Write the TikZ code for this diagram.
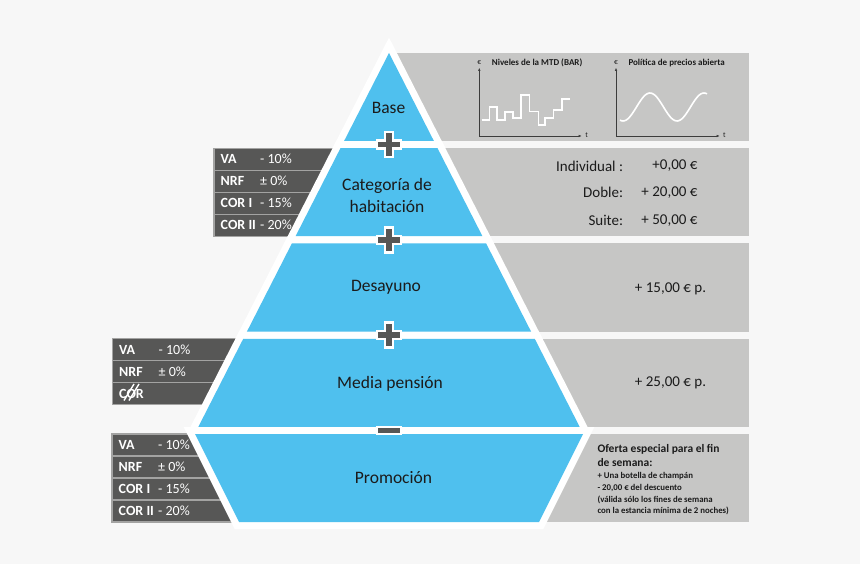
\documentclass[tikz,border=0pt]{standalone}
\usepackage{fontspec}
\setmainfont{Carlito}
\usetikzlibrary{arrows.meta}

\definecolor{pagebg}{HTML}{F7F7F7}
\definecolor{tierblue}{HTML}{4FC0EE}
\definecolor{panelgray}{HTML}{C6C6C5}
\definecolor{boxdark}{HTML}{575756}
\definecolor{boxline}{HTML}{A3A3A2}
\definecolor{inkdark}{HTML}{1B1B1B}
\definecolor{axisdark}{HTML}{3C3C3C}

\tikzset{
  tierlabel/.style={font=\fontsize{17.5}{22}\selectfont, text=inkdark, align=center, inner sep=0pt},
  pricetext/.style={font=\fontsize{15}{18}\selectfont, text=inkdark, inner sep=0pt},
  offertitle/.style={font=\bfseries\fontsize{11.5}{14}\selectfont, text=inkdark, inner sep=0pt, anchor=base west},
  offerline/.style={font=\bfseries\fontsize{8.8}{11}\selectfont, text=inkdark, inner sep=0pt, anchor=base west},
  darkrow/.style={fill=boxdark, draw=boxline, line width=1.2pt},
  rowkey/.style={anchor=west, inner sep=0pt, text=white, font=\bfseries\fontsize{14}{16}\selectfont},
  rowval/.style={anchor=west, inner sep=0pt, text=white, font=\fontsize{14}{16}\selectfont},
  tiergap/.style={fill=white, draw=white, line width=14pt, line join=miter},
  tierfill/.style={fill=tierblue},
  charttitle/.style={font=\bfseries\fontsize{9}{11}\selectfont, text=inkdark, anchor=west, inner sep=0pt},
  axislabel/.style={font=\fontsize{7.5}{9}\selectfont, text=inkdark, inner sep=0pt},
  axisline/.style={draw=axisdark, line width=0.8pt, -{Latex[length=3.5pt,width=2.6pt]}},
  pricecurve/.style={draw=white, line width=1.6pt},
  strikeline/.style={draw=white, line width=1.4pt},
  plusmark/.pic={
    \draw[fill=boxdark, draw=white, line width=2.5pt]
      (-4,-12.5) -- (4,-12.5) -- (4,-4) -- (12,-4) -- (12,4) -- (4,4) -- (4,12.5)
      -- (-4,12.5) -- (-4,4) -- (-12,4) -- (-12,-4) -- (-4,-4) -- cycle;
  },
  minusmark/.pic={
    \draw[fill=boxdark, draw=white, line width=2.5pt] (-12,-3.5) rectangle (12,3.5);
  }
}

\begin{document}
\begin{tikzpicture}[x=1pt, y=-1pt]
  \useasboundingbox (0,0) rectangle (860,564);
  \fill[pagebg] (0,0) rectangle (860,564);

  % gray price panels
  \foreach \top/\bot in {53/141, 148.25/236.25, 243.5/331.5, 338.75/426.75, 434/522}
    \fill[panelgray] (389,\top) rectangle (749,\bot);

  % rate boxes on the left
  \foreach \i/\key/\val [evaluate=\i as \ry using 148.25+22*\i] in
      {0/VA/- 10\%, 1/NRF/± 0\%, 2/COR I/- 15\%, 3/COR II/- 20\%} {
    \draw[darkrow] (214,\ry) rectangle (389,{\ry+22});
    \node[rowkey] (cat-key-\i) at (220.5,{\ry+11}) {\key};
    \node[rowval] (cat-val-\i) at (260,{\ry+11}) {\val};
  }
  \foreach \i/\key/\val [evaluate=\i as \ry using 338.75+22*\i] in
      {0/VA/- 10\%, 1/NRF/± 0\%, 2/COR/} {
    \draw[darkrow] (112.5,\ry) rectangle (389,{\ry+22});
    \node[rowkey] (med-key-\i) at (119,{\ry+11}) {\key};
    \node[rowval] (med-val-\i) at (158.5,{\ry+11}) {\val};
  }
  \draw[strikeline] (124,400.5) -- (134,384);
  \draw[strikeline] (129,400.5) -- (139,384);
  \foreach \i/\key/\val [evaluate=\i as \ry using 434+22*\i] in
      {0/VA/- 10\%, 1/NRF/± 0\%, 2/COR I/- 15\%, 3/COR II/- 20\%} {
    \draw[darkrow] (112,\ry) rectangle (389,{\ry+22});
    \node[rowkey] (pro-key-\i) at (118.5,{\ry+11}) {\key};
    \node[rowval] (pro-val-\i) at (158,{\ry+11}) {\val};
  }

  % pyramid: white bands first, then the blue tiers
  \path[tiergap] (389,53) -- (433.9,141) -- (344.1,141) -- cycle;
  \foreach \top/\bot in {148.25/236.25, 243.5/331.5, 338.75/426.75}
    \path[tiergap] ({389-0.51*(\top-53)},\top) -- ({389+0.51*(\top-53)},\top)
      -- ({389+0.51*(\bot-53)},\bot) -- ({389-0.51*(\bot-53)},\bot) -- cycle;
  \path[tiergap] (195,434) -- (583,434) -- (539,522) -- (239,522) -- cycle;

  \fill[tierfill] (389,53) -- (433.9,141) -- (344.1,141) -- cycle;
  \foreach \top/\bot in {148.25/236.25, 243.5/331.5, 338.75/426.75}
    \fill[tierfill] ({389-0.51*(\top-53)},\top) -- ({389+0.51*(\top-53)},\top)
      -- ({389+0.51*(\bot-53)},\bot) -- ({389-0.51*(\bot-53)},\bot) -- cycle;
  \fill[tierfill] (195,434) -- (583,434) -- (539,522) -- (239,522) -- cycle;

  \pic at (389,144.6) {plusmark};
  \pic at (389,239.9) {plusmark};
  \pic at (389,335.1) {plusmark};
  \pic at (389,430.4) {minusmark};

  % tier names
  \node[tierlabel] (base) at (388.5,107.5) {Base};
  \node[tierlabel] (cat) at (387,195) {Categoría de\\habitación};
  \node[tierlabel] (des) at (386,287) {Desayuno};
  \node[tierlabel] (med) at (390,384) {Media pensión};
  \node[tierlabel] (pro) at (393.5,478) {Promoción};

  % charts in the base panel
  \coordinate (bar-o) at (479.3,136);
  \draw[axisline] (bar-o) -- (479.3,67.5);
  \draw[axisline] (bar-o) -- (582,136);
  \node[axislabel] (bar-eur) at (479.3,63) {€};
  \node[axislabel] (bar-t) at (586.7,135.5) {t};
  \node[charttitle] (bar-title) at (491.7,63.3) {Niveles de la MTD (BAR)};
  \draw[pricecurve, line join=miter] (481.7,120) -- (489.3,120) -- (489.3,107.3)
    -- (496.7,107.3) -- (496.7,120) -- (504.7,120) -- (504.7,112) -- (512.7,112)
    -- (512.7,118.3) -- (521,118.3) -- (521,95) -- (529.3,95) -- (529.3,111.7)
    -- (538.3,111.7) -- (538.3,125) -- (545,125) -- (545,118.3) -- (553.3,118.3)
    -- (553.3,110) -- (561.7,110) -- (561.7,99.3) -- (570,99.3);

  \coordinate (open-o) at (616,136);
  \draw[axisline] (open-o) -- (616,67.5);
  \draw[axisline] (open-o) -- (720,136);
  \node[axislabel] (open-eur) at (616,63) {€};
  \node[axislabel] (open-t) at (724.3,135.5) {t};
  \node[charttitle] (open-title) at (628.3,63.3) {Política de precios abierta};
  \draw[pricecurve] plot[domain=620:707, samples=60, smooth]
    (\x, {107-14*sin(6.6667*(\x-636.5))});

  % prices
  \node[pricetext, anchor=east] (ind-key) at (623.3,166) {Individual :};
  \node[pricetext, anchor=east] (ind-val) at (697.7,166) {+0,00 €};
  \node[pricetext, anchor=east] (dob-key) at (623.3,192.7) {Doble:};
  \node[pricetext, anchor=east] (dob-val) at (697.7,192.7) {+ 20,00 €};
  \node[pricetext, anchor=east] (sui-key) at (623.3,220.7) {Suite:};
  \node[pricetext, anchor=east] (sui-val) at (697.7,220.7) {+ 50,00 €};
  \node[pricetext] (des-val) at (670.5,289) {+ 15,00 € p.};
  \node[pricetext] (med-val) at (670.5,383) {+ 25,00 € p.};

  \node[offertitle] (offer-1) at (597.3,452.3) {Oferta especial para el fin};
  \node[offertitle] (offer-2) at (597.3,466.3) {de semana:};
  \node[offerline] (offer-3) at (597.3,478.8) {+ Una botella de champán};
  \node[offerline] (offer-4) at (597.3,490.5) {- 20,00 € del descuento};
  \node[offerline] (offer-5) at (597.3,502.2) {(válida sólo los fines de semana};
  \node[offerline] (offer-6) at (597.3,513.9) {con la estancia mínima de 2 noches)};
\end{tikzpicture}
\end{document}
